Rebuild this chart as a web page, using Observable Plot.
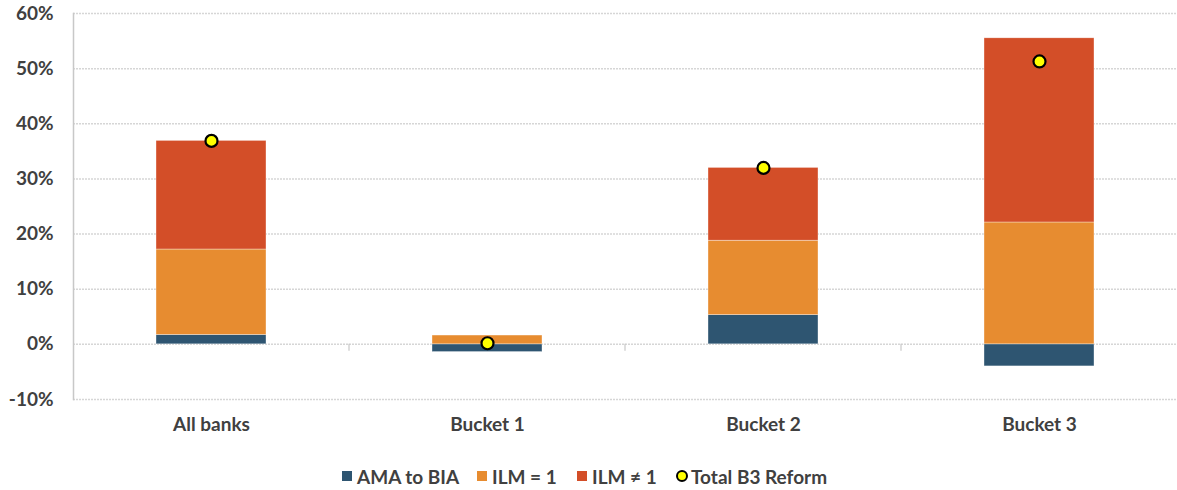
<!DOCTYPE html>
<html>
<head>
<meta charset="utf-8">
<script src="https://cdn.jsdelivr.net/npm/d3@7"></script>
<script src="https://cdn.jsdelivr.net/npm/@observablehq/plot@0.6"></script>
<style>
  html, body { margin: 0; padding: 0; background: #fff; }
  body { width: 1177px; height: 490px; overflow: hidden; font-family: Lato, "Open Sans", sans-serif; }
  #legend { position: relative; height: 30px; margin-top: 16px; font: bold 19px Lato, sans-serif; color: #404040; }
  .item { position: absolute; top: 0; display: flex; align-items: center; height: 30px; white-space: nowrap; }
  .sw { width: 10px; height: 10px; margin-right: 5px; box-sizing: border-box; }
  .dot { width: 12px; height: 12px; border-radius: 50%; background: #ffff00; border: 2px solid #000; box-sizing: border-box; margin-right: 3px; }
</style>
</head>
<body>
<div id="chart"></div>
<div id="legend"></div>
<script>
const categories = ["All banks", "Bucket 1", "Bucket 2", "Bucket 3"];
const seriesNames = ["AMA to BIA", "ILM = 1", "ILM \u2260 1"];
const amaToBia = [1.7, -1.4, 5.3, -4.0];
const ilmEq1 = [15.5, 1.6, 13.5, 22.1];
const ilmNe1 = [19.7, 0, 13.2, 33.4];
const totalB3 = [36.9, 0.2, 32.0, 51.3];
const yTicks = [-10, 0, 10, 20, 30, 40, 50, 60];
const colors = ["#2e5571", "#e78c30", "#d34e28"];

const seriesValues = [amaToBia, ilmEq1, ilmNe1];
const rows = [];
seriesNames.forEach((s, si) => categories.forEach((c, ci) => rows.push({cat: c, series: s, order: si, value: seriesValues[si][ci]})));
const totals = categories.map((c, i) => ({cat: c, value: totalB3[i]}));

const plot = Plot.plot({
  width: 1177,
  height: 445,
  marginLeft: 73,
  marginRight: 0,
  marginTop: 13,
  marginBottom: 46,
  style: {fontFamily: "Lato, sans-serif", fontSize: "19px", fontWeight: "bold", color: "#404040", background: "#fff"},
  x: {domain: categories, paddingInner: 0.6, paddingOuter: 0.3, label: null},
  y: {domain: [-10, 60], ticks: yTicks, label: null},
  color: {domain: seriesNames, range: colors},
  marks: [
    Plot.ruleY(yTicks, {stroke: "#d6d6d6", strokeWidth: 1.5, strokeDasharray: "2,1"}),
    Plot.frame({anchor: "left", stroke: "#c8c8c8", strokeWidth: 1.5}),
    Plot.barY(rows, {x: "cat", y: "value", fill: "series", order: seriesNames, stroke: "#fff", strokeWidth: 0.6, strokeOpacity: 0.6}),
    Plot.dot(totals, {x: "cat", y: "value", r: 6, fill: "#ffff00", stroke: "#000", strokeWidth: 2.2}),
    Plot.axisY({ticks: yTicks, tickSize: 0, tickPadding: 20, tickFormat: d => d + "%", fontSize: 19, fill: "#404040"}),
    Plot.axisX({tickSize: 0, tickPadding: 18, fontSize: 19, fill: "#404040"})
  ]
});
document.getElementById("chart").appendChild(plot);

// small separator ticks on the zero line between categories
const xs = plot.scale("x"), ys = plot.scale("y");
const step = (xs.range[1] - xs.range[0]) / categories.length;
const y0 = ys.apply(0);
const svg = d3.select(plot);
for (let i = 1; i < categories.length; i++) {
  const bx = xs.range[0] + i * step;
  svg.append("line").attr("x1", bx).attr("x2", bx).attr("y1", y0).attr("y2", y0 + 7)
    .attr("stroke", "#c8c8c8").attr("stroke-width", 1.2);
}

const legend = document.getElementById("legend");
const legendX = [342, 477, 577, 676];
seriesNames.forEach((s, i) => {
  const it = document.createElement("div"); it.className = "item"; it.style.left = legendX[i] + "px";
  const sw = document.createElement("div"); sw.className = "sw"; sw.style.background = colors[i];
  it.appendChild(sw); it.appendChild(document.createTextNode(s)); legend.appendChild(it);
});
const it = document.createElement("div"); it.className = "item"; it.style.left = legendX[3] + "px";
const d = document.createElement("div"); d.className = "dot";
it.appendChild(d); it.appendChild(document.createTextNode("Total B3 Reform")); legend.appendChild(it);
</script>
</body>
</html>
